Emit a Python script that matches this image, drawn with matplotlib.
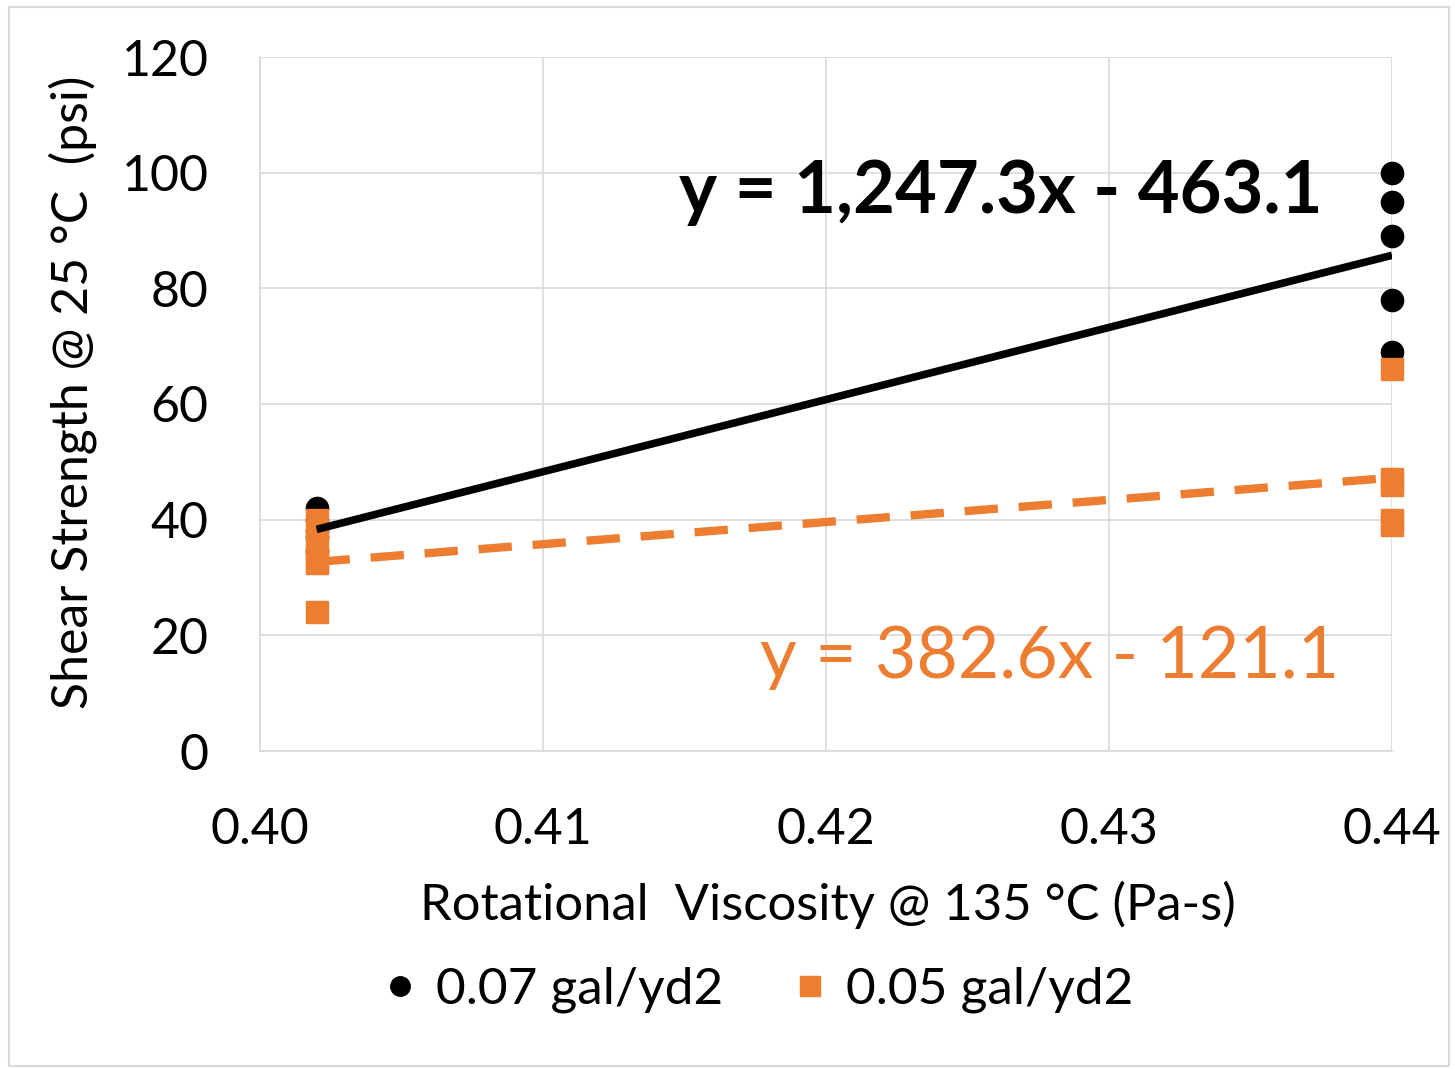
import matplotlib
matplotlib.use("Agg")
import matplotlib.pyplot as plt
from matplotlib.lines import Line2D
import numpy as np

plt.rcParams['font.family'] = ['Lato', 'DejaVu Sans']

x_black = [0.402, 0.402, 0.402, 0.402, 0.402, 0.44, 0.44, 0.44, 0.44, 0.44]
y_black = [42, 40, 38, 37, 34.5, 100, 95, 89, 78, 69]
x_orange = [0.402, 0.402, 0.402, 0.402, 0.402, 0.44, 0.44, 0.44, 0.44, 0.44]
y_orange = [40, 36, 33, 32.5, 24, 66, 47, 46, 40, 39]
slope_black, icpt_black = 1247.3, -463.1
slope_orange, icpt_orange = 382.6, -121.1
x_ticks = [0.40, 0.41, 0.42, 0.43, 0.44]
x_ticklabels = ["0.40", "0.41", "0.42", "0.43", "0.44"]
y_ticks = [0, 20, 40, 60, 80, 100, 120]

black = "#000000"
orange = "#ED7D31"

fig = plt.figure(figsize=(14.55, 10.69), dpi=100)
ax = fig.add_axes([260/1455, 1-751/1069, (1392-260)/1455, (751-57)/1069])

ax.set_xlim(0.40, 0.44)
ax.set_ylim(0, 120)
ax.set_xticks(x_ticks)
ax.set_xticklabels(x_ticklabels)
ax.set_yticks(y_ticks)
ax.grid(True, color="#D9D9D9", linewidth=1.2)
ax.set_axisbelow(True)
for s in ["top", "right"]:
    ax.spines[s].set_visible(False)
for s in ["left", "bottom"]:
    ax.spines[s].set_color("#D9D9D9")
    ax.spines[s].set_linewidth(1.2)
ax.tick_params(length=0, labelsize=36, colors="#000000")
ax.tick_params(axis='y', pad=37)
ax.tick_params(axis='x', pad=40)

xs = np.array([min(x_black), max(x_black)])
ax.plot(xs, slope_orange*xs + icpt_orange, color=orange, lw=6, ls=(0, (4, 2.5)), zorder=2)
ax.plot(x_orange, y_orange, ls="none", marker="s", ms=16, color=orange, zorder=3, clip_on=False)
ax.plot(x_black, y_black, ls="none", marker="o", ms=16, color=black, zorder=2.5, clip_on=False)
ax.plot(xs, slope_black*xs + icpt_black, color=black, lw=5.5, zorder=4, solid_capstyle='butt')

fig.text(1001/1455, 1-192/1069, "y = 1,247.3x - 463.1", fontsize=52, fontweight="bold",
         color=black, ha="center", va="center")
fig.text(1050/1455, 1-657/1069, "y = 382.6x - 121.1", fontsize=51.5,
         color=orange, ha="center", va="center")

fig.text(828/1455, 1-905/1069, "Rotational  Viscosity @ 135 °C (Pa-s)", fontsize=36.5,
         ha="center", va="center")
fig.text(73/1455, 1-392/1069, "Shear Strength @ 25 °C  (psi)", fontsize=36,
         ha="center", va="center", rotation=90)

handles = [Line2D([], [], ls="none", marker="o", ms=14, color=black),
           Line2D([], [], ls="none", marker="s", ms=14, color=orange)]
fig.legend(handles, ["0.07 gal/yd2", "0.05 gal/yd2"], loc="center",
           bbox_to_anchor=(754/1455, 1-990/1069), ncol=2, frameon=False,
           fontsize=37, handletextpad=0.2, columnspacing=1.2, handlelength=1.0)

fig.patches.append(plt.Rectangle((0.006, 0.003), 0.99, 0.99, transform=fig.transFigure,
                                 fill=False, edgecolor="#D9D9D9", lw=1.5))
fig.savefig("out.png", dpi=100)
